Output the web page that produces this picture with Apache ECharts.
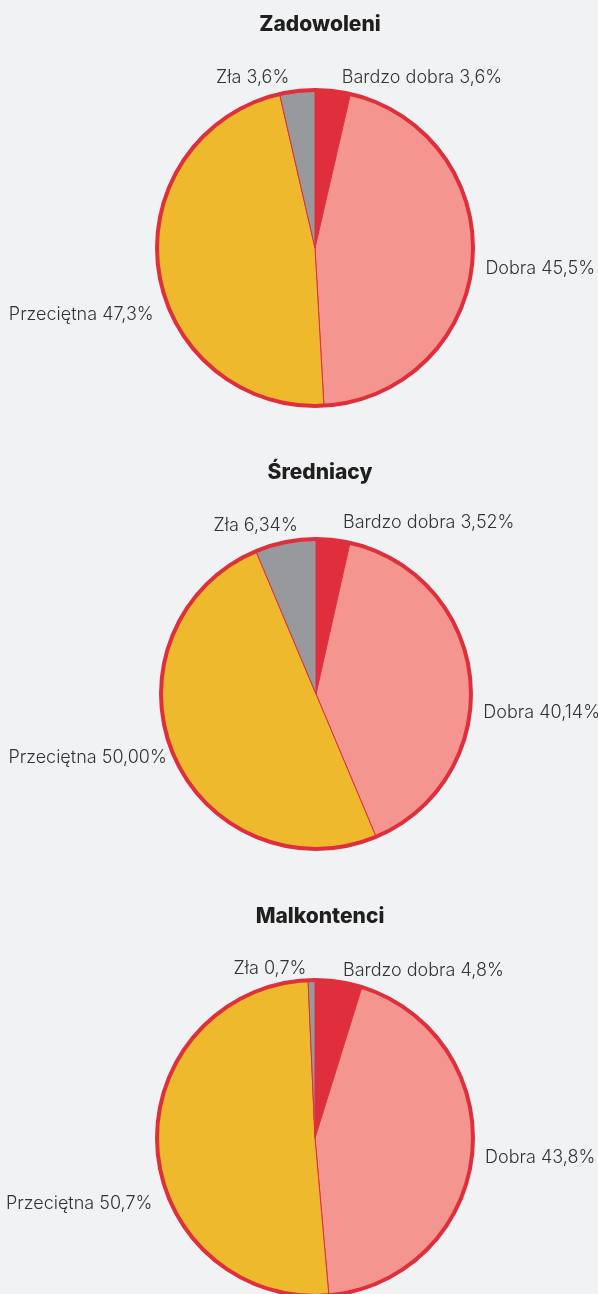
<!DOCTYPE html>
<html>
<head>
<meta charset="utf-8">
<script src="https://cdn.jsdelivr.net/npm/echarts@6/dist/echarts.min.js"></script>
<style>
    html, body { margin: 0; padding: 0; background: #f1f2f4; }
    #chart { width: 598px; height: 1294px; }
</style>
</head>
<body>
<div id="chart"></div>
<script>
// oceny - trzy grupy respondentow
var categories = ['Bardzo dobra', 'Dobra', 'Przeciętna', 'Zła'];
var groupNames = ['Zadowoleni', 'Średniacy', 'Malkontenci'];
var zadowoleni = [3.6, 45.5, 47.3, 3.6];
var sredniacy = [3.52, 40.14, 50.00, 6.34];
var malkontenci = [4.8, 43.8, 50.7, 0.7];
var decimals = [1, 2, 1];

var colors = ['#e02f3c', '#f5958f', '#efb92d', '#98999d'];
var red = '#e02f3c';

// polozenie kazdego kola
var centers = [[315, 248], [316, 694], [315, 1138]];
var radii = [160, 157, 160];
var titleTops = [9, 457, 901];
// korekty etykiet [dx, dy] - kolejnosc jak categories
var labelShift = [
    [[3, -5], [0, 7], [8, 43], [-2, -5]],
    [[4, -9], [0, 33], [6, 0], [19, -9]],
    [[-2, -3], [0, 2], [8, 55], [0, -3]]
];

var groups = [zadowoleni, sredniacy, malkontenci];

function fmt(v, d) {
    return v.toFixed(d).replace('.', ',') + '%';
}

var series = [];
var titles = [];
groups.forEach(function (vals, g) {
    titles.push({
        text: groupNames[g],
        left: 315,
        top: titleTops[g],
        textAlign: 'center',
        textStyle: {
            fontFamily: 'Inter',
            fontWeight: 800,
            fontSize: 21,
            color: '#1f1f1f'
        }
    });
    var d = decimals[g];
    series.push({
        type: 'pie',
        center: centers[g],
        radius: [0, radii[g] - 2],
        startAngle: 90,
        clockwise: true,
        silent: true,
        itemStyle: {
            borderColor: red,
            borderWidth: 1
        },
        label: {
            show: true,
            position: 'outside',
            overflow: 'none',
            fontFamily: 'Inter',
            fontWeight: 300,
            fontSize: 18,
            color: '#333',
            formatter: function (p) {
                return p.name + ' ' + fmt(p.value, d);
            }
        },
        labelLine: {show: false, length: 8, length2: 0},
        labelLayout: function (p) {
            var s = labelShift[g][p.dataIndex];
            return {dx: s[0], dy: s[1]};
        },
        data: vals.map(function (v, i) {
            return {name: categories[i], value: v, itemStyle: {color: colors[i]}};
        })
    });
    // czerwona obwodka
    series.push({
        type: 'pie',
        center: centers[g],
        radius: [radii[g] - 4, radii[g]],
        silent: true,
        label: {show: false},
        labelLine: {show: false},
        itemStyle: {color: red},
        data: [{value: 1, name: 'ring'}]
    });
});

var myChart = echarts.init(document.getElementById('chart'));
myChart.setOption({
    backgroundColor: '#f1f2f4',
    animation: false,
    title: titles,
    series: series
});
</script>
</body>
</html>
